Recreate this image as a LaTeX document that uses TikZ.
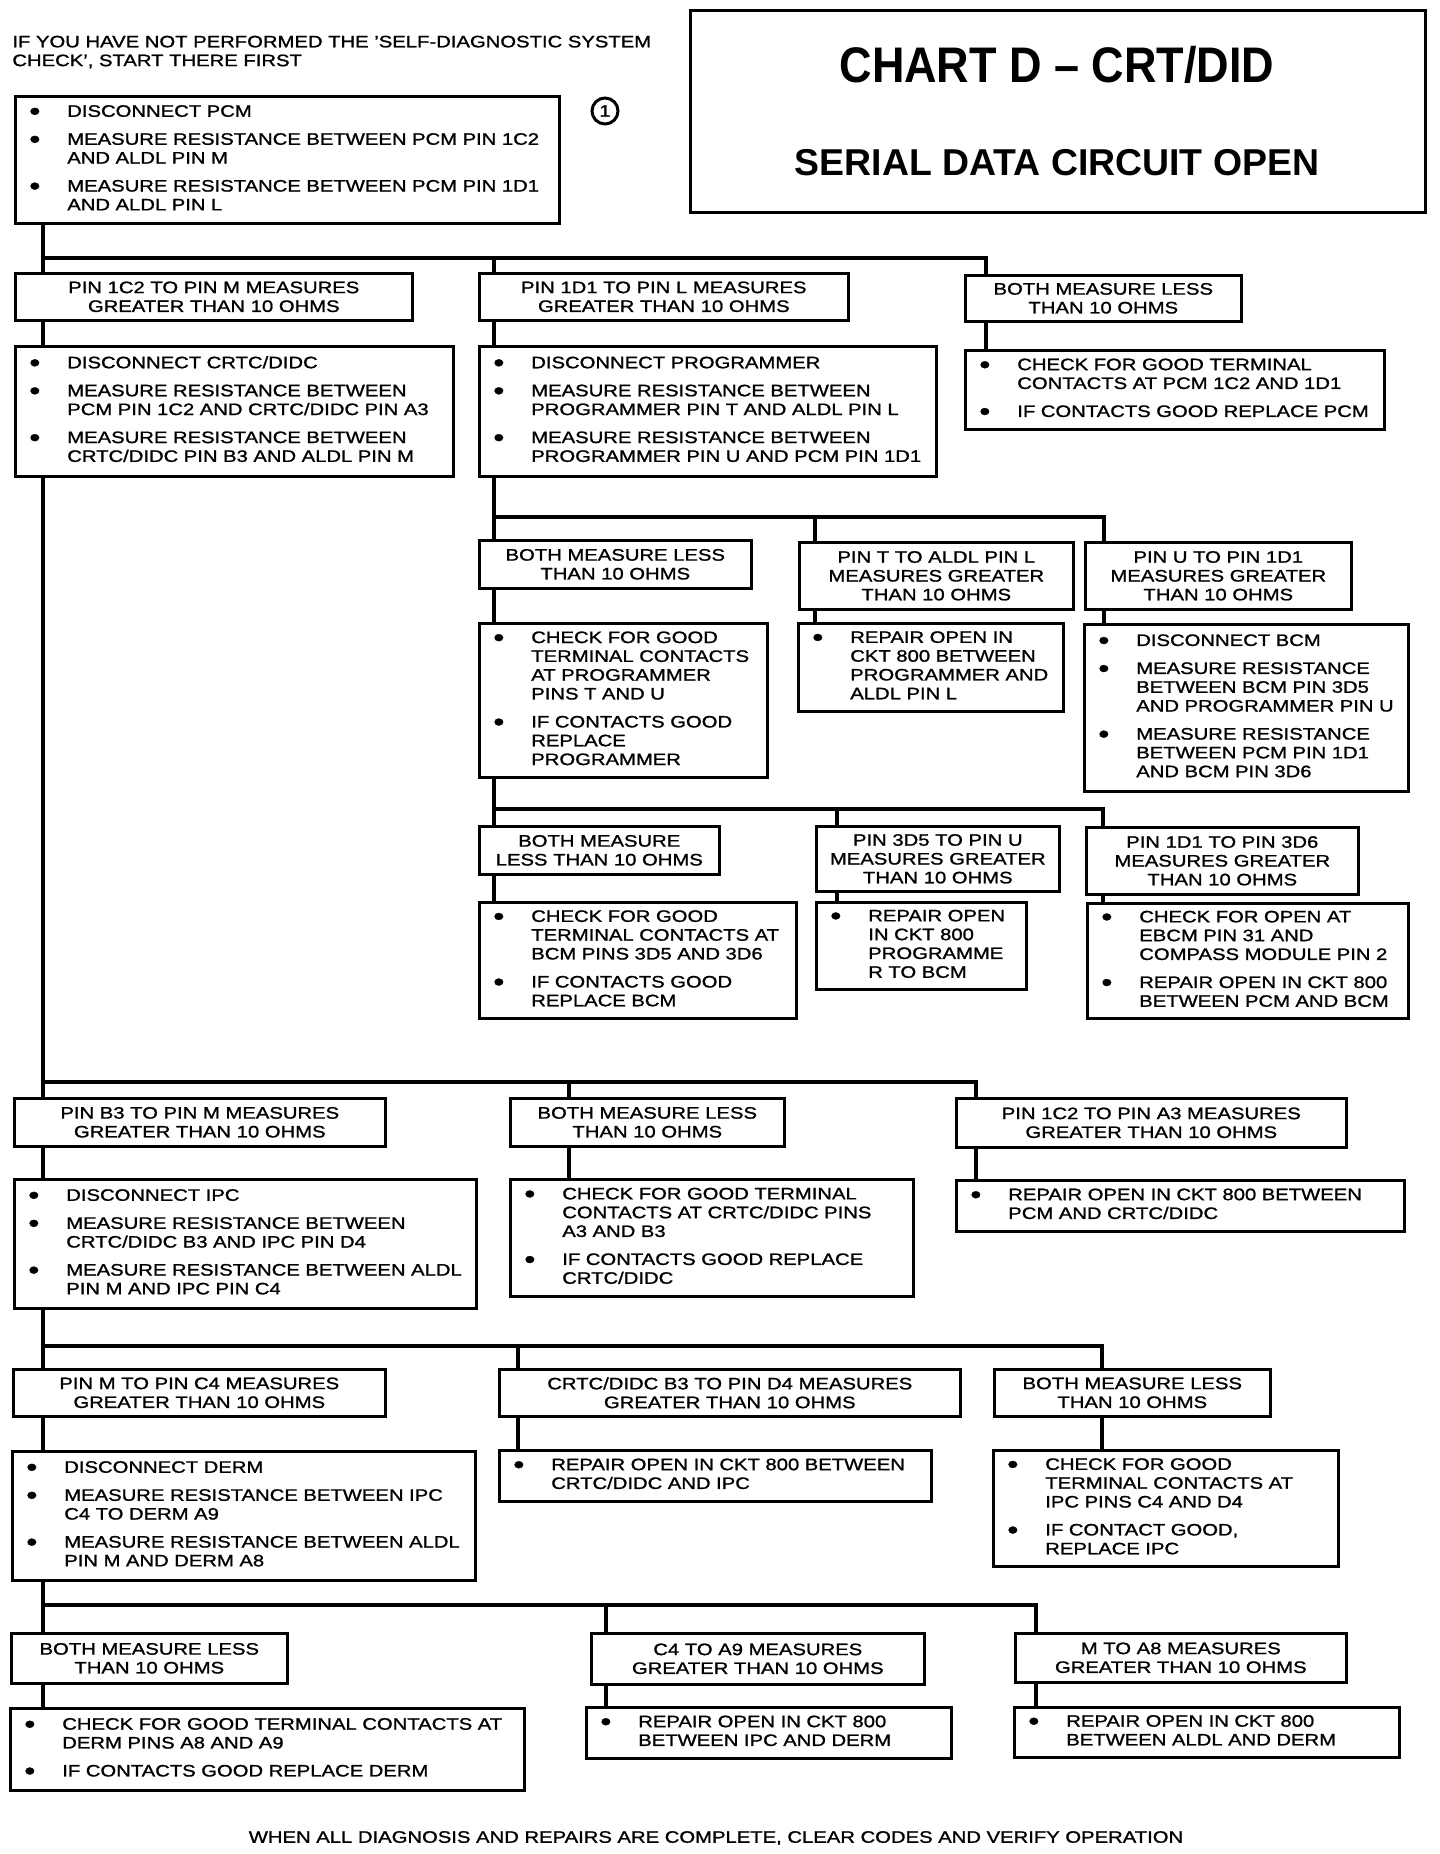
\documentclass[tikz,border=0pt]{standalone}
\usepackage{fontspec}
\setmainfont{Liberation Sans}[FakeStretch=1.22,FakeBold=1.2]
\newfontfamily\chartfont{Liberation Sans}[FakeStretch=0.9]
\newfontfamily\plainfont{Liberation Sans}
\newcommand{\bodyfont}{\fontsize{8.3}{9.4}\selectfont}
\newcommand{\bl}{\raisebox{-1.6pt}{\fontsize{13}{9}\selectfont\textbullet}}
\newenvironment{steps}{\begin{tabular}{@{}p{19pt}@{}l@{}}}{\end{tabular}}
\tikzset{
  chkbox/.style={draw, line width=1.3pt, anchor=north west, inner xsep=7pt, inner ysep=0pt, align=left, font=\bodyfont},
  condbox/.style={draw, line width=1.3pt, anchor=north west, inner sep=0pt, align=center, font=\bodyfont},
  link/.style={line width=1.7pt},
}

\begin{document}
\begin{tikzpicture}[x=0.5pt,y=-0.5pt]
  \useasboundingbox (0,0) rectangle (1440,1854);

  \node[anchor=west, align=left, inner sep=0pt, font=\bodyfont] (intro) at (12,52) {IF YOU HAVE NOT PERFORMED THE 'SELF-DIAGNOSTIC SYSTEM\\CHECK', START THERE FIRST};
  \node[draw, line width=1.3pt, anchor=north west, minimum width=367.5pt, minimum height=101pt] (title) at (689,9) {};
  \node[font={\chartfont\bfseries\fontsize{25}{30}\selectfont}] (head) at (1057,65) {CHART D – CRT/DID};
  \node[font={\plainfont\bfseries\fontsize{18.7}{22}\selectfont}] (sub) at (1057,163) {SERIAL DATA CIRCUIT OPEN};
  \node[draw, circle, line width=1.5pt, minimum size=13pt, inner sep=0pt, font=\bodyfont] (one) at (605,111) {1};

  \node[chkbox, text width=258pt, minimum height=63.5pt] (pcm) at (14,95) {\begin{steps}
    \bl & DISCONNECT PCM\\[4.6pt]
    \bl & MEASURE RESISTANCE BETWEEN PCM PIN 1C2\\
        & AND ALDL PIN M\\[4.6pt]
    \bl & MEASURE RESISTANCE BETWEEN PCM PIN 1D1\\
        & AND ALDL PIN L
  \end{steps}};

  \node[condbox, minimum width=198.5pt, minimum height=23.5pt] (a1) at (14,272) {PIN 1C2 TO PIN M MEASURES\\GREATER THAN 10 OHMS};
  \node[condbox, minimum width=184.5pt, minimum height=23.5pt] (a2) at (478,272) {PIN 1D1 TO PIN L MEASURES\\GREATER THAN 10 OHMS};
  \node[condbox, minimum width=138pt, minimum height=23pt] (a3) at (964,274) {BOTH MEASURE LESS\\THAN 10 OHMS};

  \node[chkbox, text width=205pt, minimum height=65pt] (b1) at (14,345) {\begin{steps}
    \bl & DISCONNECT CRTC/DIDC\\[4.6pt]
    \bl & MEASURE RESISTANCE BETWEEN\\
        & PCM PIN 1C2 AND CRTC/DIDC PIN A3\\[4.6pt]
    \bl & MEASURE RESISTANCE BETWEEN\\
        & CRTC/DIDC PIN B3 AND ALDL PIN M
  \end{steps}};
  \node[chkbox, text width=214.5pt, minimum height=65pt] (b2) at (478,345) {\begin{steps}
    \bl & DISCONNECT PROGRAMMER\\[4.6pt]
    \bl & MEASURE RESISTANCE BETWEEN\\
        & PROGRAMMER PIN T AND ALDL PIN L\\[4.6pt]
    \bl & MEASURE RESISTANCE BETWEEN\\
        & PROGRAMMER PIN U AND PCM PIN 1D1
  \end{steps}};
  \node[chkbox, text width=195.5pt, minimum height=39.5pt] (b3) at (964,349) {\begin{steps}
    \bl & CHECK FOR GOOD TERMINAL\\
        & CONTACTS AT PCM 1C2 AND 1D1\\[4.6pt]
    \bl & IF CONTACTS GOOD REPLACE PCM
  \end{steps}};

  \node[condbox, minimum width=136pt, minimum height=24pt] (c1) at (478,539) {BOTH MEASURE LESS\\THAN 10 OHMS};
  \node[condbox, minimum width=137pt, minimum height=33.5pt] (c2) at (798,541) {PIN T TO ALDL PIN L\\MEASURES GREATER\\THAN 10 OHMS};
  \node[condbox, minimum width=133pt, minimum height=33.5pt] (c3) at (1084,541) {PIN U TO PIN 1D1\\MEASURES GREATER\\THAN 10 OHMS};

  \node[chkbox, text width=130pt, minimum height=77pt] (d1) at (478,622) {\begin{steps}
    \bl & CHECK FOR GOOD\\
        & TERMINAL CONTACTS\\
        & AT PROGRAMMER\\
        & PINS T AND U\\[4.6pt]
    \bl & IF CONTACTS GOOD\\
        & REPLACE\\
        & PROGRAMMER
  \end{steps}};
  \node[chkbox, text width=118.5pt, minimum height=44pt] (d2) at (797,622) {\begin{steps}
    \bl & REPAIR OPEN IN\\
        & CKT 800 BETWEEN\\
        & PROGRAMMER AND\\
        & ALDL PIN L
  \end{steps}};
  \node[chkbox, text width=148pt, minimum height=83.5pt] (d3) at (1083,623) {\begin{steps}
    \bl & DISCONNECT BCM\\[4.6pt]
    \bl & MEASURE RESISTANCE\\
        & BETWEEN BCM PIN 3D5\\
        & AND PROGRAMMER PIN U\\[4.6pt]
    \bl & MEASURE RESISTANCE\\
        & BETWEEN PCM PIN 1D1\\
        & AND BCM PIN 3D6
  \end{steps}};

  \node[condbox, minimum width=120pt, minimum height=24pt] (e1) at (478,825) {BOTH MEASURE\\LESS THAN 10 OHMS};
  \node[condbox, minimum width=121.5pt, minimum height=32.5pt] (e2) at (815,825) {PIN 3D5 TO PIN U\\MEASURES GREATER\\THAN 10 OHMS};
  \node[condbox, minimum width=136pt, minimum height=33.5pt] (e3) at (1085,826) {PIN 1D1 TO PIN 3D6\\MEASURES GREATER\\THAN 10 OHMS};

  \node[chkbox, text width=144.5pt, minimum height=58pt] (f1) at (478,901) {\begin{steps}
    \bl & CHECK FOR GOOD\\
        & TERMINAL CONTACTS AT\\
        & BCM PINS 3D5 AND 3D6\\[4.6pt]
    \bl & IF CONTACTS GOOD\\
        & REPLACE BCM
  \end{steps}};
  \node[chkbox, text width=91pt, minimum height=43.5pt] (f2) at (815,901) {\begin{steps}
    \bl & REPAIR OPEN\\
        & IN CKT 800\\
        & PROGRAMME\\
        & R TO BCM
  \end{steps}};
  \node[chkbox, text width=146.5pt, minimum height=57.5pt] (f3) at (1086,902) {\begin{steps}
    \bl & CHECK FOR OPEN AT\\
        & EBCM PIN 31 AND\\
        & COMPASS MODULE PIN 2\\[4.6pt]
    \bl & REPAIR OPEN IN CKT 800\\
        & BETWEEN PCM AND BCM
  \end{steps}};

  \node[condbox, minimum width=185.5pt, minimum height=24pt] (g1) at (13,1097) {PIN B3 TO PIN M MEASURES\\GREATER THAN 10 OHMS};
  \node[condbox, minimum width=137pt, minimum height=24pt] (g2) at (509,1097) {BOTH MEASURE LESS\\THAN 10 OHMS};
  \node[condbox, minimum width=195pt, minimum height=24.5pt] (g3) at (955,1097) {PIN 1C2 TO PIN A3 MEASURES\\GREATER THAN 10 OHMS};

  \node[chkbox, text width=217pt, minimum height=64.5pt] (h1) at (13,1178) {\begin{steps}
    \bl & DISCONNECT IPC\\[4.6pt]
    \bl & MEASURE RESISTANCE BETWEEN\\
        & CRTC/DIDC B3 AND IPC PIN D4\\[4.6pt]
    \bl & MEASURE RESISTANCE BETWEEN ALDL\\
        & PIN M AND IPC PIN C4
  \end{steps}};
  \node[chkbox, text width=187.5pt, minimum height=58.5pt] (h2) at (509,1178) {\begin{steps}
    \bl & CHECK FOR GOOD TERMINAL\\
        & CONTACTS AT CRTC/DIDC PINS\\
        & A3 AND B3\\[4.6pt]
    \bl & IF CONTACTS GOOD REPLACE\\
        & CRTC/DIDC
  \end{steps}};
  \node[chkbox, text width=210pt, minimum height=25.5pt] (h3) at (955,1179) {\begin{steps}
    \bl & REPAIR OPEN IN CKT 800 BETWEEN\\
        & PCM AND CRTC/DIDC
  \end{steps}};

  \node[condbox, minimum width=186pt, minimum height=23.5pt] (i1) at (12,1368) {PIN M TO PIN C4 MEASURES\\GREATER THAN 10 OHMS};
  \node[condbox, minimum width=230.5pt, minimum height=23.5pt] (i2) at (498,1368) {CRTC/DIDC B3 TO PIN D4 MEASURES\\GREATER THAN 10 OHMS};
  \node[condbox, minimum width=138pt, minimum height=23.5pt] (i3) at (993,1368) {BOTH MEASURE LESS\\THAN 10 OHMS};

  \node[chkbox, text width=217.5pt, minimum height=64.5pt] (j1) at (11,1450) {\begin{steps}
    \bl & DISCONNECT DERM\\[4.6pt]
    \bl & MEASURE RESISTANCE BETWEEN IPC\\
        & C4 TO DERM A9\\[4.6pt]
    \bl & MEASURE RESISTANCE BETWEEN ALDL\\
        & PIN M AND DERM A8
  \end{steps}};
  \node[chkbox, text width=202pt, minimum height=25.5pt] (j2) at (498,1449) {\begin{steps}
    \bl & REPAIR OPEN IN CKT 800 BETWEEN\\
        & CRTC/DIDC AND IPC
  \end{steps}};
  \node[chkbox, text width=158.5pt, minimum height=58pt] (j3) at (992,1449) {\begin{steps}
    \bl & CHECK FOR GOOD\\
        & TERMINAL CONTACTS AT\\
        & IPC PINS C4 AND D4\\[4.6pt]
    \bl & IF CONTACT GOOD,\\
        & REPLACE IPC
  \end{steps}};

  \node[condbox, minimum width=138pt, minimum height=25pt] (k1) at (10,1632) {BOTH MEASURE LESS\\THAN 10 OHMS};
  \node[condbox, minimum width=166.5pt, minimum height=25.5pt] (k2) at (590,1632) {C4 TO A9 MEASURES\\GREATER THAN 10 OHMS};
  \node[condbox, minimum width=165.5pt, minimum height=24.5pt] (k3) at (1014,1632) {M TO A8 MEASURES\\GREATER THAN 10 OHMS};

  \node[chkbox, text width=243pt, minimum height=41pt] (l1) at (9,1707) {\begin{steps}
    \bl & CHECK FOR GOOD TERMINAL CONTACTS AT\\
        & DERM PINS A8 AND A9\\[4.6pt]
    \bl & IF CONTACTS GOOD REPLACE DERM
  \end{steps}};
  \node[chkbox, text width=168.5pt, minimum height=25.5pt] (l2) at (585,1706) {\begin{steps}
    \bl & REPAIR OPEN IN CKT 800\\
        & BETWEEN IPC AND DERM
  \end{steps}};
  \node[chkbox, text width=178.5pt, minimum height=25pt] (l3) at (1013,1706) {\begin{steps}
    \bl & REPAIR OPEN IN CKT 800\\
        & BETWEEN ALDL AND DERM
  \end{steps}};

  \node[font=\bodyfont] (final) at (716,1838) {WHEN ALL DIAGNOSIS AND REPAIRS ARE COMPLETE, CLEAR CODES AND VERIFY OPERATION};

  \coordinate (t1) at (43,258);
  \coordinate (t2) at (494,258);
  \coordinate (t3) at (986,258);
  \draw[link] (pcm.south -| t1) -- (a1.north -| t1);
  \draw[link] (t1) -- (t3) -- (a3.north -| t3);
  \draw[link] (t2) -- (a2.north -| t2);
  \draw[link] (a1.south -| t1) -- (b1.north -| t1);
  \draw[link] (a2.south -| t2) -- (b2.north -| t2);
  \draw[link] (a3.south -| t3) -- (b3.north -| t3);

  \coordinate (u1) at (494,517);
  \coordinate (u2) at (815,517);
  \coordinate (u3) at (1104,517);
  \draw[link] (b2.south -| u1) -- (c1.north -| u1);
  \draw[link] (u1) -- (u3) -- (c3.north -| u3);
  \draw[link] (u2) -- (c2.north -| u2);
  \draw[link] (c1.south -| u1) -- (d1.north -| u1);
  \draw[link] (c2.south -| u2) -- (d2.north -| u2);
  \draw[link] (c3.south -| u3) -- (d3.north -| u3);

  \coordinate (v1) at (494,809);
  \coordinate (v2) at (837,809);
  \coordinate (v3) at (1103,809);
  \draw[link] (d1.south -| v1) -- (e1.north -| v1);
  \draw[link] (v1) -- (v3) -- (e3.north -| v3);
  \draw[link] (v2) -- (e2.north -| v2);
  \draw[link] (e1.south -| v1) -- (f1.north -| v1);
  \draw[link] (e2.south -| v2) -- (f2.north -| v2);
  \draw[link] (e3.south -| v3) -- (f3.north -| v3);

  \coordinate (w1) at (43,1082);
  \coordinate (w2) at (569,1082);
  \coordinate (w3) at (976,1082);
  \draw[link] (b1.south -| w1) -- (g1.north -| w1);
  \draw[link] (w1) -- (w3) -- (g3.north -| w3);
  \draw[link] (w2) -- (g2.north -| w2);
  \draw[link] (g1.south -| w1) -- (h1.north -| w1);
  \draw[link] (g2.south -| w2) -- (h2.north -| w2);
  \draw[link] (g3.south -| w3) -- (h3.north -| w3);

  \coordinate (x1) at (43,1346);
  \coordinate (x2) at (518,1346);
  \coordinate (x3) at (1102,1346);
  \draw[link] (h1.south -| x1) -- (i1.north -| x1);
  \draw[link] (x1) -- (x3) -- (i3.north -| x3);
  \draw[link] (x2) -- (i2.north -| x2);
  \draw[link] (i1.south -| x1) -- (j1.north -| x1);
  \draw[link] (i2.south -| x2) -- (j2.north -| x2);
  \draw[link] (i3.south -| x3) -- (j3.north -| x3);

  \coordinate (y1) at (43,1605);
  \coordinate (y2) at (606,1605);
  \coordinate (y3) at (1036,1605);
  \draw[link] (j1.south -| y1) -- (k1.north -| y1);
  \draw[link] (y1) -- (y3) -- (k3.north -| y3);
  \draw[link] (y2) -- (k2.north -| y2);
  \draw[link] (k1.south -| y1) -- (l1.north -| y1);
  \draw[link] (k2.south -| y2) -- (l2.north -| y2);
  \draw[link] (k3.south -| y3) -- (l3.north -| y3);
\end{tikzpicture}
\end{document}
